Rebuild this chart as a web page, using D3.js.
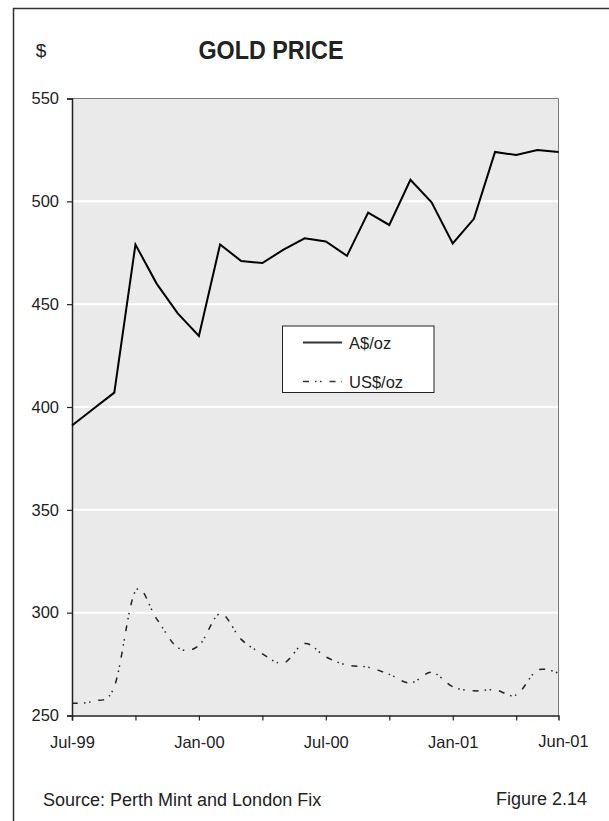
<!DOCTYPE html>
<html>
<head>
<meta charset="utf-8">
<script src="https://cdn.jsdelivr.net/npm/d3@7"></script>
<style>
  html, body { margin: 0; padding: 0; background: #fff; }
  svg { display: block; font-family: "Liberation Sans", Arial, sans-serif; }
</style>
</head>
<body>
<svg id="chart" width="609" height="821"></svg>
<script>
// ---- data ----
const months = ["Jul-99","Aug-99","Sep-99","Oct-99","Nov-99","Dec-99",
                "Jan-00","Feb-00","Mar-00","Apr-00","May-00","Jun-00",
                "Jul-00","Aug-00","Sep-00","Oct-00","Nov-00","Dec-00",
                "Jan-01","Feb-01","Mar-01","Apr-01","May-01","Jun-01"];
const audPrice = [391, 399, 407, 479, 460, 445.5, 434.5, 479, 471, 470, 476.5, 482,
                  480.5, 473.5, 494.5, 488.5, 510.5, 499.5, 479.5, 491.5, 524, 522.5, 525, 524];
const usdPrice = [256, 257, 264, 310.5, 297, 283, 284, 299.5, 287, 280, 275.5, 285,
                  278.5, 274.5, 273.5, 270, 265.8, 271, 264, 262, 262.5, 260, 272, 270.5];
const yTicks = [250, 300, 350, 400, 450, 500, 550];
const xTickMonths = ["Jul-99","Oct-99","Jan-00","Apr-00","Jul-00","Oct-00","Jan-01","Apr-01"];
const xLabelMonths = ["Jul-99","Jan-00","Jul-00","Jan-01"];
const seriesNames = ["A$/oz", "US$/oz"];
const titleText = "GOLD PRICE";
const unitText = "$";
const sourceText = "Source:  Perth Mint and London Fix";
const figureText = "Figure 2.14";

// ---- layout ----
const svg = d3.select("#chart");
const L = 72, R = 558.5, T = 98.5, B = 715.5;

const x = d3.scalePoint().domain(months).range([L, R]).padding(0);
const y = d3.scaleLinear().domain([250, 550]).range([B, T]);

// outer frame (left and top edges visible)
svg.append("path")
  .attr("d", `M13.5,821 L13.5,8.5 L609,8.5`)
  .attr("fill", "none").attr("stroke", "#333").attr("stroke-width", 1.5);

// plot background
svg.append("rect")
  .attr("x", L).attr("y", T).attr("width", R - L).attr("height", B - T)
  .attr("fill", "#eaeaea");

// gridlines
svg.append("g").selectAll("line")
  .data(yTicks.filter(v => v > 250 && v < 550))
  .join("line")
  .attr("x1", L).attr("x2", R)
  .attr("y1", d => y(d)).attr("y2", d => y(d))
  .attr("stroke", "#fff").attr("stroke-width", 2);

// top and right border
svg.append("path")
  .attr("d", `M${L},${T} L${R},${T} L${R},${B}`)
  .attr("fill", "none").attr("stroke", "#7a7a7a").attr("stroke-width", 1);

// y axis
const yAxis = svg.append("g")
  .attr("transform", `translate(${L},0)`)
  .call(d3.axisLeft(y).tickValues(yTicks).tickSize(5).tickPadding(8).tickFormat(d3.format("d")));
yAxis.select(".domain").attr("stroke", "#222").attr("stroke-width", 1.5);
yAxis.selectAll(".tick line").attr("stroke", "#222").attr("stroke-width", 1.2);
yAxis.selectAll(".tick text")
  .attr("font-size", 16.5).attr("fill", "#222")
  .attr("font-family", "Liberation Sans, Arial, sans-serif");

// x axis
const xAxis = svg.append("g")
  .attr("transform", `translate(0,${B})`)
  .call(d3.axisBottom(x).tickValues(xTickMonths).tickSize(5).tickPadding(16)
        .tickFormat(d => xLabelMonths.includes(d) ? d : ""));
xAxis.select(".domain").attr("stroke", "#222").attr("stroke-width", 1.5);
xAxis.selectAll(".tick line").attr("stroke", "#222").attr("stroke-width", 1.2);
xAxis.selectAll(".tick text")
  .attr("font-size", 16.5).attr("fill", "#222")
  .attr("font-family", "Liberation Sans, Arial, sans-serif");

// end label (no tick)
svg.append("text")
  .attr("x", x(months[months.length - 1]) + 5).attr("y", B + 31)
  .attr("text-anchor", "middle").attr("font-size", 16.5).attr("fill", "#222")
  .text(months[months.length - 1]);

// lines
const audLine = d3.line()
  .x((d, i) => x(months[i])).y(d => y(d));
const usdLine = d3.line()
  .x((d, i) => x(months[i])).y(d => y(d))
  .curve(d3.curveCatmullRom.alpha(0));

svg.append("path")
  .datum(usdPrice)
  .attr("d", usdLine)
  .attr("fill", "none").attr("stroke", "#222").attr("stroke-width", 1.5)
  .attr("stroke-dasharray", "6,6,1.5,3.5,1.5,8");

svg.append("path")
  .datum(audPrice)
  .attr("d", audLine)
  .attr("fill", "none").attr("stroke", "#000").attr("stroke-width", 2)
  .attr("stroke-linejoin", "miter");

// legend
const lg = svg.append("g");
lg.append("rect")
  .attr("x", 282.5).attr("y", 326).attr("width", 151.5).attr("height", 66.5)
  .attr("fill", "#fff").attr("stroke", "#222").attr("stroke-width", 1);
lg.append("line")
  .attr("x1", 303).attr("x2", 342).attr("y1", 342.5).attr("y2", 342.5)
  .attr("stroke", "#333").attr("stroke-width", 2);
lg.append("line")
  .attr("x1", 303).attr("x2", 342).attr("y1", 381.5).attr("y2", 381.5)
  .attr("stroke", "#333").attr("stroke-width", 1.5)
  .attr("stroke-dasharray", "6,6,1.5,3.5,1.5,8");
lg.append("text")
  .attr("x", 349).attr("y", 349).attr("font-size", 16.5).attr("fill", "#222")
  .text(seriesNames[0]);
lg.append("text")
  .attr("x", 349).attr("y", 388).attr("font-size", 16.5).attr("fill", "#222")
  .text(seriesNames[1]);

// title & unit
svg.append("text")
  .attr("x", 271).attr("y", 59).attr("text-anchor", "middle")
  .attr("font-size", 26).attr("font-weight", "bold").attr("fill", "#222")
  .attr("textLength", 145).attr("lengthAdjust", "spacingAndGlyphs")
  .text(titleText);
svg.append("text")
  .attr("x", 41).attr("y", 57).attr("text-anchor", "middle")
  .attr("font-size", 19).attr("fill", "#222")
  .text(unitText);

// footer
svg.append("text")
  .attr("x", 43).attr("y", 806).attr("font-size", 18).attr("fill", "#222")
  .text(sourceText);
svg.append("text")
  .attr("x", 587).attr("y", 805).attr("text-anchor", "end").attr("font-size", 18).attr("fill", "#222")
  .text(figureText);
</script>
</body>
</html>
